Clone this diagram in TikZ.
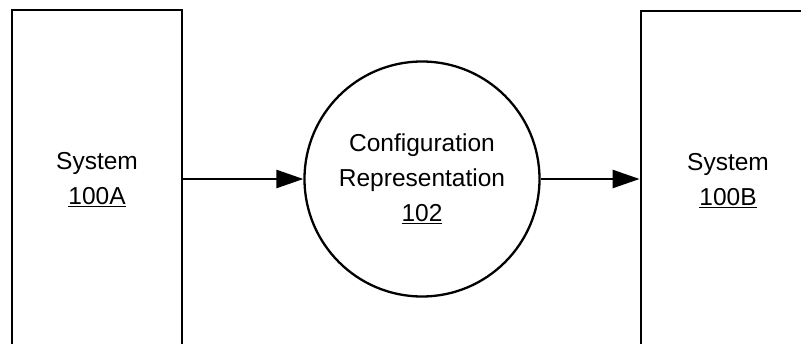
\documentclass[tikz,border=0pt]{standalone}
\usepackage{fontspec}
\setmainfont{Liberation Sans}
\usetikzlibrary{arrows.meta}
\tikzset{
  sysbox/.style={draw, line width=2.8pt, minimum width=170pt, minimum height=340pt,
    inner sep=0pt, align=center, font=\fontsize{24.5pt}{35pt}\selectfont},
  repcircle/.style={draw, circle, line width=2.3pt, minimum size=235pt, inner sep=0pt,
    align=center, font=\fontsize{24.5pt}{35pt}\selectfont},
  flow/.style={line width=2.6pt, -{Triangle[length=27pt,width=18pt]}}
}
\begin{document}
\begin{tikzpicture}[x=1pt,y=-1pt]
  \useasboundingbox (0,0) rectangle (801,343);
  \clip (0,0) rectangle (801,343);
  \fill[white] (0,0) rectangle (801,343);
  \node[sysbox] (sysA) at (97,180) {System\\\underline{100A}};
  \node[sysbox, minimum width=174pt] (sysB) at (728,181) {System\\\underline{100B}};
  \node[repcircle] (rep) at (422,179) {Configuration\\Representation\\\underline{102}};
  \draw[flow] (sysA.east |- rep.west) -- (rep.west);
  \draw[flow] (rep.east) -- (sysB.west |- rep.east);
\end{tikzpicture}
\end{document}
